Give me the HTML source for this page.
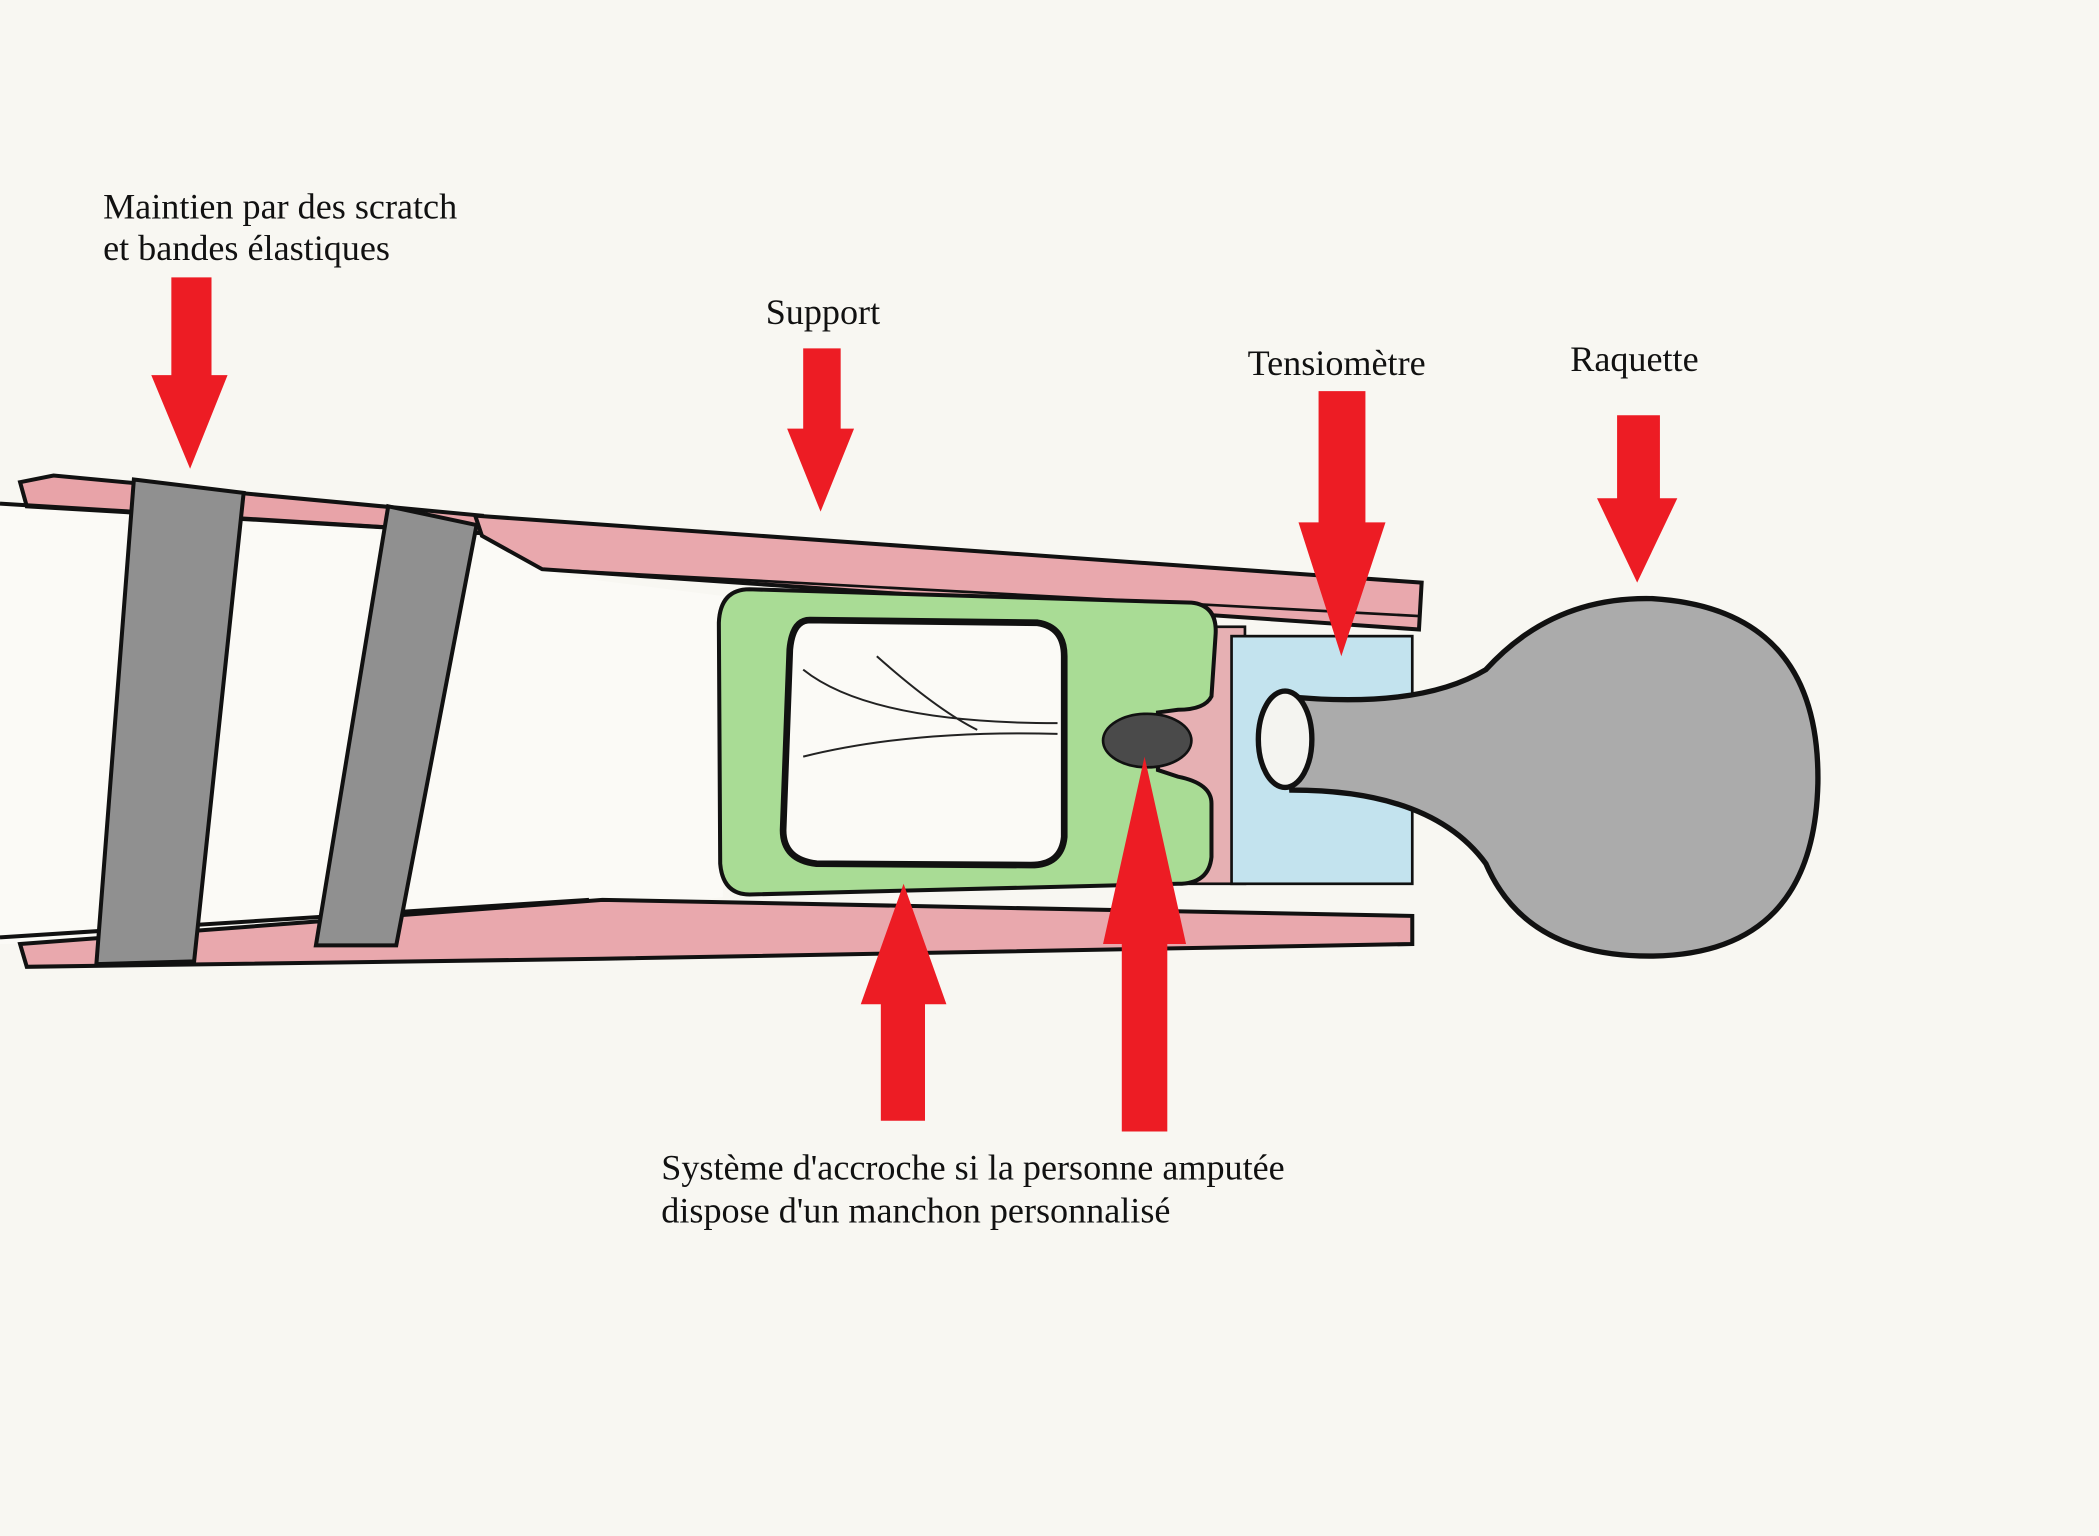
<!DOCTYPE html>
<html><head><meta charset="utf-8"><style>
html,body{margin:0;padding:0;background:#f8f7f2;}
svg{display:block}
text{font-family:"Liberation Serif",serif;font-size:27px;fill:#111}
</style></head><body>
<svg width="2099" height="1536" viewBox="0 0 1568 1147" xmlns="http://www.w3.org/2000/svg">
<rect width="1568" height="1147" fill="#f8f7f2"/>
<polygon points="0,377 360,390 420,430 540,445 540,670 450,680 300,700 0,705" fill="#fbfaf6"/>
<polygon points="15,360 40,355 360,385 360,398 20,378" fill="#e8a3a8" stroke="#111" stroke-width="3"/>
<line x1="0" y1="376" x2="360" y2="398" stroke="#111" stroke-width="3"/>
<polygon points="355,385 1062,435 1060,470 405,425 360,400" fill="#e9a8ad" stroke="#111" stroke-width="3"/>
<line x1="405" y1="425" x2="1060" y2="460" stroke="#111" stroke-width="2"/>
<polygon points="15,705 450,672 1055,684 1055,705 450,716 20,722" fill="#e9a8ad" stroke="#111" stroke-width="3"/>
<line x1="0" y1="700" x2="440" y2="672" stroke="#111" stroke-width="3"/>
<rect x="860" y="468" width="70" height="192" fill="#e6b0b3" stroke="#111" stroke-width="2"/>
<rect x="920" y="475" width="135" height="185" fill="#c3e3ee" stroke="#111" stroke-width="2"/>
<path d="M560,440 L890,450 Q910,452 908,475 L905,520 Q900,530 880,530 L865,532 L865,575 L880,580 Q905,585 905,600 L905,640 Q903,660 880,660 L560,668 Q540,668 538,645 L537,465 Q538,440 560,440 Z" fill="#a9dc95" stroke="#111" stroke-width="3"/>
<path d="M605,463 L775,465 Q795,468 795,490 L795,625 Q793,646 770,646 L610,645 Q585,642 585,620 L590,485 Q592,463 605,463 Z" fill="#fbfaf6" stroke="#111" stroke-width="5"/>
<path d="M600,500 Q650,540 790,540 M600,565 Q680,545 790,548 M655,490 Q700,530 730,545" fill="none" stroke="#222" stroke-width="1.5"/>
<ellipse cx="857" cy="553" rx="33" ry="20" fill="#4a4a4a" stroke="#111" stroke-width="2"/>
<path d="M960,520 Q1060,530 1110,500 Q1160,445 1235,447 Q1360,455 1358,585 Q1355,712 1235,714 Q1140,715 1110,645 Q1070,590 965,590 Z" fill="#ababab" stroke="#111" stroke-width="4"/>
<ellipse cx="960" cy="552" rx="20" ry="36" fill="#f4f4f0" stroke="#111" stroke-width="4"/>
<polygon points="100,358 182,368 145,718 72,720" fill="#909090" stroke="#111" stroke-width="3"/>
<polygon points="290,378 356,392 296,706 236,706" fill="#909090" stroke="#111" stroke-width="3"/>
<g fill="#ed1c24">
<polygon points="128,207 158,207 158,280 170,280 142,350 113,280 128,280"/>
<polygon points="600,260 628,260 628,320 638,320 613,382 588,320 600,320"/>
<polygon points="985,292 1020,292 1020,390 1035,390 1002,490 970,390 985,390"/>
<polygon points="1208,310 1240,310 1240,372 1253,372 1223,435 1193,372 1208,372"/>
<polygon points="675,660 707,750 691,750 691,837 658,837 658,750 643,750"/>
<polygon points="855,565 886,705 872,705 872,845 838,845 838,705 824,705"/>
</g>
<text x="77" y="163">Maintien par des scratch</text>
<text x="77" y="194">et bandes élastiques</text>
<text x="572" y="242">Support</text>
<text x="932" y="280">Tensiomètre</text>
<text x="1173" y="277">Raquette</text>
<text x="494" y="881">Système d'accroche si la personne amputée</text>
<text x="494" y="913">dispose d'un manchon personnalisé</text>
</svg>
</body></html>
